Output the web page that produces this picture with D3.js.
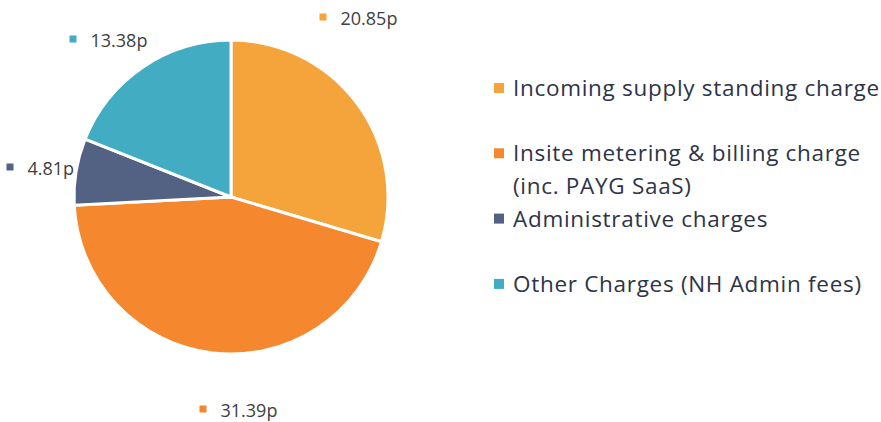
<!DOCTYPE html>
<html>
<head>
<meta charset="utf-8">
<script src="https://cdn.jsdelivr.net/npm/d3@7"></script>
<style>
  body { margin: 0; background: #fff; }
  svg { display: block; font-family: "Open Sans", sans-serif; }
</style>
</head>
<body>
<div id="chart"></div>
<script>
// Data
const categories = [
    "Incoming supply standing charge",
    "Insite metering & billing charge|(inc. PAYG SaaS)",
    "Administrative charges",
    "Other Charges (NH Admin fees)"
];
const values = [20.85, 31.39, 4.81, 13.38];
const valueLabels = ["20.85p", "31.39p", "4.81p", "13.38p"];
const colors = ["#F5A33B", "#F5882F", "#536282", "#42ADC2"];

// where each value label sits, relative to the pie centre
const labelOffsets = [[92, -180], [-28, 212], [-221, -30], [-158, -158]];

const width = 881, height = 422;
const cx = 231, cy = 197, radius = 157;

const svg = d3.select("#chart")
    .append("svg")
    .attr("width", width)
    .attr("height", height);

const data = values.map((v, i) => ({ name: categories[i], value: v, label: valueLabels[i], color: colors[i] }));

const pie = d3.pie().sort(null).value(d => d.value);
const arc = d3.arc().innerRadius(0).outerRadius(radius);

const g = svg.append("g").attr("transform", `translate(${cx},${cy})`);

g.selectAll("path")
    .data(pie(data))
    .join("path")
    .attr("d", arc)
    .attr("fill", d => d.data.color)
    .attr("stroke", "#fff")
    .attr("stroke-width", 3)
    .attr("stroke-linejoin", "round");

// value labels with small colour markers
const labels = g.selectAll("g.vlabel")
    .data(data)
    .join("g")
    .attr("class", "vlabel")
    .attr("transform", (d, i) => `translate(${labelOffsets[i][0]},${labelOffsets[i][1]})`);

labels.append("rect")
    .attr("x", -3.5).attr("y", -3.5)
    .attr("width", 7).attr("height", 7)
    .attr("fill", d => d.color);

labels.append("text")
    .attr("x", 17.5)
    .attr("y", 8)
    .attr("font-size", 18)
    .attr("fill", "#404040")
    .text(d => d.label);

// Legend
const legend = svg.append("g").attr("transform", "translate(494,88)");
const rowStep = 65.3;

const items = legend.selectAll("g")
    .data(data)
    .join("g")
    .attr("transform", (d, i) => `translate(0,${i * rowStep})`);

items.append("rect")
    .attr("x", 0).attr("y", -5)
    .attr("width", 10).attr("height", 10)
    .attr("fill", d => d.color);

items.append("text")
    .attr("x", 19)
    .attr("y", 8)
    .attr("font-size", 22.5)
    .attr("letter-spacing", 0.7)
    .attr("fill", "#2E3447")
    .selectAll("tspan")
    .data(d => d.name.split("|"))
    .join("tspan")
    .attr("x", 19)
    .attr("dy", (d, i) => i === 0 ? 0 : 33)
    .text(d => d);
</script>
</body>
</html>
